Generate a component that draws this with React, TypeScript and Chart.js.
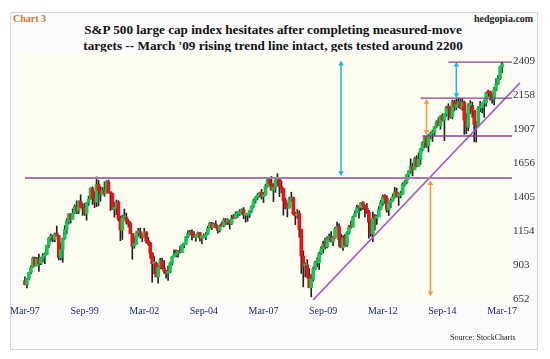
import React, { useEffect, useRef } from "react";
import { Chart, registerables } from "chart.js";
Chart.register(...registerables);

// Monthly S&P 500 candles, Mar-97 .. Mar-17 (index 0 = Mar-97)
const firstOpen = 786;
const closes = [
  757, 801, 848, 885, 954, 899, 947, 915, 955, 970,
  980, 1049, 1102, 1112, 1091, 1134, 1121, 957, 1017, 1099, 1164, 1229,
  1280, 1238, 1286, 1335, 1302, 1373, 1329, 1320, 1283, 1363, 1389, 1469,
  1394, 1366, 1499, 1452, 1421, 1455, 1431, 1518, 1437, 1429, 1315, 1320,
  1366, 1240, 1160, 1249, 1256, 1224, 1211, 1134, 1041, 1060, 1139, 1148,
  1130, 1107, 1147, 1077, 1067, 990, 912, 916, 815, 886, 936, 880,
  856, 841, 848, 917, 964, 975, 990, 1008, 996, 1051, 1058, 1112,
  1131, 1145, 1126, 1107, 1121, 1141, 1101, 1104, 1115, 1130, 1174, 1212,
  1181, 1204, 1181, 1157, 1192, 1191, 1234, 1220, 1229, 1207, 1249, 1248,
  1280, 1281, 1295, 1311, 1270, 1270, 1277, 1304, 1336, 1378, 1401, 1418,
  1438, 1407, 1421, 1482, 1531, 1503, 1455, 1474, 1527, 1549, 1481, 1468,
  1379, 1331, 1323, 1386, 1400, 1280, 1267, 1283, 1165, 969, 896, 903,
  826, 735, 798, 873, 919, 919, 987, 1021, 1057, 1036, 1096, 1115,
  1074, 1104, 1169, 1187, 1089, 1031, 1102, 1049, 1141, 1183, 1181, 1258,
  1286, 1327, 1326, 1364, 1345, 1321, 1292, 1219, 1131, 1253, 1247, 1258,
  1312, 1366, 1408, 1398, 1310, 1362, 1379, 1407, 1441, 1412, 1416, 1426,
  1498, 1515, 1569, 1598, 1631, 1606, 1686, 1633, 1682, 1757, 1806, 1848,
  1783, 1859, 1872, 1884, 1924, 1960, 1931, 2003, 1972, 2018, 2068, 2059,
  1995, 2105, 2068, 2086, 2107, 2063, 2104, 1972, 1920, 2079, 2080, 2044,
  1940, 1932, 2060, 2065, 2097, 2099, 2174, 2171, 2168, 2126, 2199, 2239,
  2279, 2364, 2388,
];
const highs = [
  815, 804, 851, 899, 961, 961, 960, 983, 960, 986,
  992, 1050, 1105, 1131, 1122, 1139, 1190, 1121, 1066, 1102, 1193, 1244,
  1280, 1283, 1317, 1347, 1376, 1376, 1421, 1356, 1358, 1365, 1411, 1473,
  1478, 1444, 1553, 1528, 1481, 1474, 1517, 1525, 1530, 1437, 1433, 1365,
  1383, 1377, 1264, 1269, 1316, 1286, 1239, 1222, 1135, 1110, 1150, 1173,
  1176, 1131, 1173, 1147, 1107, 1070, 994, 965, 924, 901, 952, 954,
  935, 864, 895, 924, 965, 1015, 1015, 1011, 1040, 1054, 1063, 1112,
  1155, 1158, 1163, 1150, 1127, 1146, 1141, 1109, 1131, 1142, 1188, 1217,
  1217, 1212, 1229, 1192, 1199, 1219, 1246, 1245, 1243, 1233, 1270, 1276,
  1295, 1297, 1311, 1318, 1327, 1284, 1284, 1306, 1340, 1389, 1407, 1431,
  1441, 1461, 1438, 1498, 1535, 1540, 1556, 1503, 1539, 1576, 1545, 1523,
  1471, 1396, 1359, 1404, 1440, 1405, 1292, 1313, 1303, 1167, 1007, 918,
  943, 876, 833, 888, 930, 956, 997, 1039, 1080, 1101, 1113, 1130,
  1150, 1112, 1180, 1220, 1206, 1131, 1120, 1129, 1149, 1196, 1227, 1263,
  1303, 1344, 1333, 1366, 1370, 1346, 1356, 1307, 1230, 1293, 1277, 1270,
  1333, 1378, 1420, 1422, 1415, 1364, 1392, 1426, 1475, 1470, 1434, 1448,
  1510, 1525, 1570, 1598, 1687, 1654, 1698, 1710, 1730, 1765, 1813, 1849,
  1851, 1867, 1884, 1898, 1925, 1968, 1991, 2005, 2019, 2018, 2075, 2093,
  2072, 2120, 2118, 2126, 2135, 2130, 2133, 2113, 2021, 2094, 2116, 2104,
  2038, 1962, 2073, 2111, 2100, 2120, 2178, 2194, 2187, 2175, 2214, 2278,
  2301, 2371, 2401,
];
const lows = [
  756, 733, 793, 836, 882, 893, 896, 855, 905, 925,
  912, 980, 1032, 1077, 1074, 1074, 1114, 940, 940, 923, 1092, 1133,
  1205, 1212, 1245, 1282, 1281, 1281, 1328, 1269, 1268, 1233, 1342, 1387,
  1350, 1326, 1333, 1339, 1374, 1420, 1410, 1429, 1435, 1305, 1313, 1255,
  1275, 1228, 1082, 1091, 1242, 1204, 1183, 1133, 945, 1026, 1055, 1114,
  1100, 1074, 1107, 1063, 1049, 952, 776, 838, 815, 768, 873, 872,
  841, 806, 789, 846, 902, 960, 962, 960, 990, 996, 1031, 1054,
  1105, 1124, 1088, 1107, 1077, 1113, 1079, 1060, 1102, 1090, 1127, 1173,
  1163, 1180, 1176, 1137, 1146, 1188, 1184, 1201, 1201, 1168, 1202, 1246,
  1245, 1253, 1268, 1280, 1245, 1219, 1225, 1253, 1290, 1327, 1360, 1385,
  1403, 1389, 1364, 1416, 1476, 1484, 1454, 1371, 1439, 1489, 1407, 1435,
  1270, 1317, 1257, 1324, 1374, 1272, 1200, 1248, 1107, 840, 741, 815,
  805, 734, 667, 784, 867, 888, 869, 978, 992, 1020, 1029, 1086,
  1071, 1045, 1101, 1170, 1040, 1028, 1010, 1040, 1040, 1131, 1173, 1186,
  1262, 1290, 1249, 1303, 1312, 1258, 1283, 1101, 1114, 1075, 1159, 1202,
  1259, 1312, 1340, 1358, 1292, 1267, 1326, 1372, 1397, 1403, 1343, 1398,
  1426, 1485, 1501, 1536, 1581, 1560, 1605, 1627, 1633, 1646, 1747, 1768,
  1771, 1737, 1834, 1814, 1859, 1915, 1930, 1905, 1964, 1821, 2001, 1973,
  1988, 1981, 2040, 2048, 2067, 2056, 2044, 1867, 1872, 1893, 2019, 1993,
  1812, 1810, 1937, 2034, 2025, 1992, 2075, 2147, 2120, 2098, 2084, 2187,
  2233, 2271, 2322,
];

const xTickIndex = [0, 30, 60, 90, 120, 150, 180, 210, 240];
const xTickLabels = ["Mar-97", "Sep-99", "Mar-02", "Sep-04", "Mar-07", "Sep-09", "Mar-12", "Sep-14", "Mar-17"];
const yTicks = [652, 903, 1154, 1405, 1656, 1907, 2158, 2409];

// Horizontal levels (value, start month index, end month index)
const levelValues = [1545, 2400, 2135, 1855];
const levelStarts = [0, 213, 199, 200];
const levelEnd = 245;
// March '09 rising trend line
const trendX = [145, 249];
const trendY = [645, 2247];
// Measured-move arrows
const arrowX = [159, 217, 202, 204];
const arrowTop = [2388, 2380, 2105, 1505];
const arrowBottom = [1583, 2158, 1885, 696];
const arrowKind = ["cyan", "cyan", "orange", "orange"];

const X_MIN = -2.5;
const X_MAX = 245;
const Y_MIN = 622;
const Y_MAX = 2475;

const plotBg = {
  id: "plotBg",
  beforeDraw(chart: any) {
    const { ctx, chartArea } = chart;
    ctx.save();
    ctx.fillStyle = "#fefdf2";
    ctx.fillRect(chartArea.left, chartArea.top, chartArea.right - chartArea.left, chartArea.bottom - chartArea.top);
    ctx.restore();
  },
};

export default function App() {
  const ref = useRef<HTMLCanvasElement | null>(null);

  useEffect(() => {
    const opens = closes.map((c, i) => (i === 0 ? firstOpen : closes[i - 1]));
    const bodies = closes.map((c, i) => ({ x: i, y: [opens[i], c] }));
    const wicks = closes.map((c, i) => ({ x: i, y: [lows[i], highs[i]] }));
    const bodyColors = closes.map((c, i) => (c >= opens[i] ? "#17c653" : "#e8141c"));

    const datasets: any[] = [];
    levelValues.forEach((v, k) => {
      datasets.push({
        type: "line",
        data: [{ x: levelStarts[k], y: v }, { x: levelEnd, y: v }],
        borderColor: k === 0 ? "#a47aa8" : "#8a3f8c",
        borderWidth: k === 0 ? 2 : 1.3,
        pointRadius: 0,
        order: 0,
        clip: false,
      });
    });
    datasets.push({
      type: "line",
      data: trendX.map((x, k) => ({ x, y: trendY[k] })),
      borderColor: "#a55cc6",
      borderWidth: 1.5,
      pointRadius: 0,
      order: 0,
      clip: false,
    });
    arrowX.forEach((x, k) => {
      const col = arrowKind[k] === "cyan" ? "#27b2dd" : "#f29a3a";
      datasets.push({
        type: "line",
        data: [{ x, y: arrowTop[k] }, { x, y: arrowBottom[k] }],
        borderColor: col,
        backgroundColor: col,
        borderWidth: 1.5,
        pointStyle: "triangle",
        pointRadius: 3.2,
        pointBorderWidth: 0,
        pointRotation: [0, 180],
        order: 0,
      });
    });
    datasets.push({
      type: "bar",
      data: bodies,
      backgroundColor: bodyColors,
      borderWidth: 0,
      barThickness: 3,
      minBarLength: 2,
      grouped: false,
      order: 1,
    });
    datasets.push({
      type: "bar",
      data: wicks,
      backgroundColor: "#222222",
      borderWidth: 0,
      barThickness: 1,
      grouped: false,
      order: 2,
    });

    const chart = new Chart(ref.current as HTMLCanvasElement, {
      type: "bar",
      data: { datasets },
      options: {
        responsive: false,
        animation: false,
        devicePixelRatio: 1,
        layout: { padding: { left: 20, top: 52, right: 8, bottom: 36 } },
        plugins: { legend: { display: false }, tooltip: { enabled: false } },
        scales: {
          x: {
            type: "linear",
            min: X_MIN,
            max: X_MAX,
            offset: false,
            grid: { display: false, drawTicks: false },
            border: { display: false },
            afterBuildTicks: (s: any) => {
              s.ticks = xTickIndex.map((v) => ({ value: v }));
            },
            afterFit: (s: any) => {
              s.height = 20;
            },
            ticks: {
              autoSkip: false,
              maxRotation: 0,
              padding: 2,
              color: "#1d2a6e",
              font: { family: "'Liberation Serif', serif", size: 10 },
              callback: (v: any) => xTickLabels[xTickIndex.indexOf(v)] ?? "",
            },
          },
          y: {
            type: "linear",
            position: "right",
            min: Y_MIN,
            max: Y_MAX,
            grid: { display: false, drawTicks: false },
            border: { display: false },
            afterBuildTicks: (s: any) => {
              s.ticks = yTicks.map((v) => ({ value: v }));
            },
            afterFit: (s: any) => {
              s.width = 30;
            },
            ticks: {
              padding: 1,
              color: "#333333",
              font: { family: "'Liberation Serif', serif", size: 11 },
              callback: (v: any) => String(v),
            },
          },
        },
      },
      plugins: [plotBg],
    } as any);
    return () => chart.destroy();
  }, []);

  return (
    <div
      style={{
        position: "fixed",
        left: 0,
        top: 0,
        width: 550,
        height: 359,
        background: "#ffffff",
        overflow: "hidden",
        fontFamily: "'Liberation Serif', serif",
      }}
    >
      <div
        style={{
          position: "absolute",
          left: 10,
          top: 12,
          width: 526,
          height: 336,
          border: "1px solid #d6d6de",
          background: "#fbfbfb",
        }}
      />
      <div style={{ position: "absolute", left: 13, top: 13, fontSize: 10, fontWeight: "bold", color: "#c47a32" }}>
        Chart 3
      </div>
      <div style={{ position: "absolute", left: 474, top: 13, fontSize: 10, fontWeight: "bold", color: "#222" }}>
        hedgopia.com
      </div>
      <div
        style={{
          position: "absolute",
          left: 0,
          width: 546,
          top: 22,
          textAlign: "center",
          fontSize: 13.2,
          lineHeight: "16px",
          fontWeight: "bold",
          color: "#111",
        }}
      >
        S&amp;P 500 large cap index hesitates after completing measured-move
        <br />
        targets -- March &apos;09 rising trend line intact, gets tested around 2200
      </div>
      <canvas ref={ref} width={550} height={359} style={{ position: "absolute", left: 0, top: 0 }} />
      <div style={{ position: "absolute", left: 450, top: 333, fontSize: 8, color: "#222" }}>
        Source: StockCharts
      </div>
    </div>
  );
}
